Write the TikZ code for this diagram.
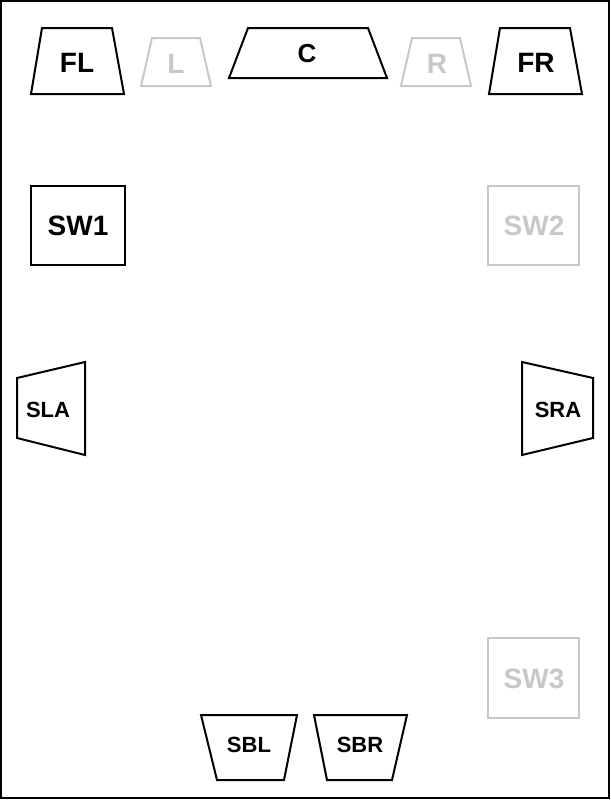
\documentclass[tikz,border=0pt]{standalone}
\usepackage{fontspec}
\setsansfont{Liberation Sans}
\definecolor{offgray}{RGB}{200,200,200}
\tikzset{
	spk/.style={draw=black, line width=1pt, line join=miter},
	spkoff/.style={draw=offgray, line width=1pt},
	lbl/.style={font=\sffamily\bfseries\fontsize{14}{16}\selectfont, text=black},
	lbloff/.style={font=\sffamily\bfseries\fontsize{14}{16}\selectfont, text=offgray},
	slbl/.style={font=\sffamily\bfseries\fontsize{11}{13}\selectfont, text=black}
}
\begin{document}
\begin{tikzpicture}[x=0.5pt,y=-0.5pt]
	\useasboundingbox (0,0) rectangle (611,800);
	\draw[line width=1pt] (1,1) rectangle (609,798);

	% front row
	\draw[spk] (42,28) -- (112,28) -- (124,94) -- (31,94) -- cycle;
	\node[lbl] (fl) at (77,63) {FL};
	\draw[spkoff] (152,38) -- (200,38) -- (211,86) -- (141,86) -- cycle;
	\node[lbloff] (l) at (176,64) {L};
	\draw[spk] (248,28) -- (368,28) -- (387,78) -- (229,78) -- cycle;
	\node[lbl, font=\sffamily\bfseries\fontsize{13}{15}\selectfont] (c) at (307,54) {C};
	\draw[spkoff] (412,38) -- (460,38) -- (471,86) -- (401,86) -- cycle;
	\node[lbloff] (r) at (437,64) {R};
	\draw[spk] (500,28) -- (570,28) -- (582,94) -- (489,94) -- cycle;
	\node[lbl] (fr) at (536,63) {FR};

	% subwoofers
	\draw[spk] (31,186) rectangle (125,265);
	\node[lbl] (sw1) at (78,226) {SW1};
	\draw[spkoff] (488,186) rectangle (579,265);
	\node[lbloff] (sw2) at (534,226) {SW2};
	\draw[spkoff] (488,638) rectangle (579,718);
	\node[lbloff] (sw3) at (534,679) {SW3};

	% surround
	\draw[spk] (17,378) -- (85,362) -- (85,455) -- (17,438) -- cycle;
	\node[slbl] (sla) at (48,410) {SLA};
	\draw[spk] (522,362) -- (593,378) -- (593,438) -- (522,455) -- cycle;
	\node[slbl] (sra) at (558,410) {SRA};

	% surround back
	\draw[spk] (201,715) -- (297,715) -- (284,780) -- (217,780) -- cycle;
	\node[slbl] (sbl) at (249,745) {SBL};
	\draw[spk] (314,715) -- (407,715) -- (392,780) -- (327,780) -- cycle;
	\node[slbl] (sbr) at (360,745) {SBR};
\end{tikzpicture}
\end{document}
